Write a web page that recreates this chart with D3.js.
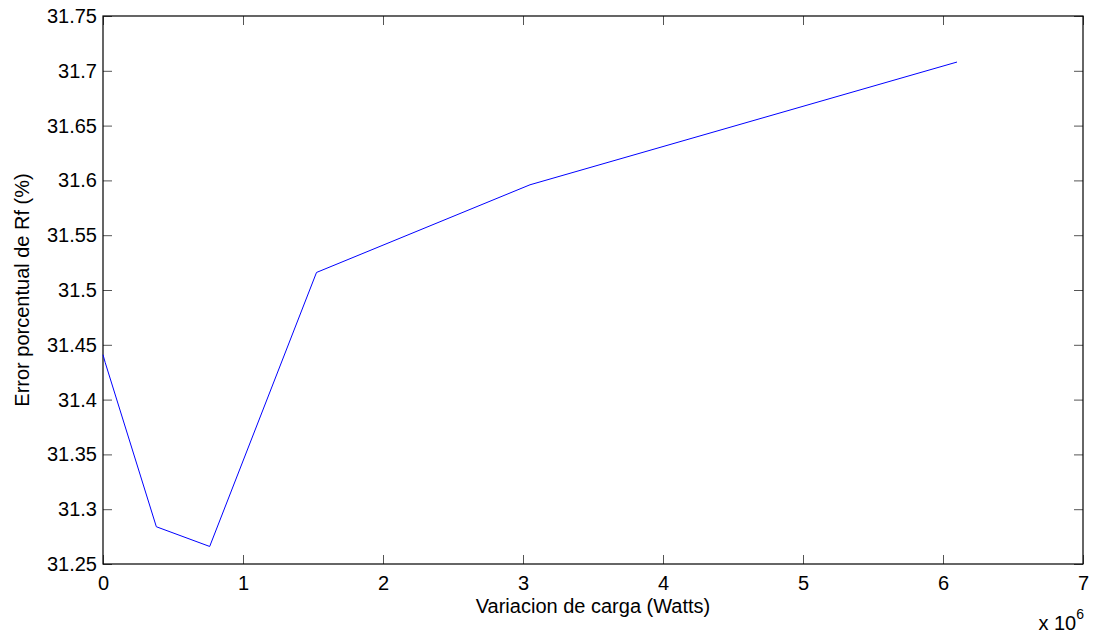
<!DOCTYPE html>
<html>
<head>
<meta charset="utf-8">
<script src="https://cdn.jsdelivr.net/npm/d3@7"></script>
<style>
  body { margin: 0; background: #fff; }
  svg { display: block; font-family: "Liberation Sans", Arial, sans-serif; }
</style>
</head>
<body>
<svg id="chart" width="1094" height="633"></svg>
<script>
// load variation in units of 1e6 W
const carga = [0, 0.0152, 0.381, 0.762, 1.525, 3.05, 6.1];
const errorRf = [31.441, 31.434, 31.284, 31.266, 31.516, 31.596, 31.708];
const xTicks = [0, 1, 2, 3, 4, 5, 6, 7];
const yTicks = [31.25, 31.3, 31.35, 31.4, 31.45, 31.5, 31.55, 31.6, 31.65, 31.7, 31.75];

const config = {
  left: 103,
  right: 1083,
  top: 16,
  bottom: 564,
  tick: 9,
  fontSize: 20
};

const svg = d3.select('#chart');

const x = d3.scaleLinear().domain([0, 7]).range([config.left, config.right]);
const y = d3.scaleLinear().domain([31.25, 31.75]).range([config.bottom, config.top]);

const fmtY = d => d3.format('.2f')(d).replace(/0$/, '');

// tick marks on all four sides (pointing inward, like matlab)
const drawAxis = (axis, transform) => {
  const g = svg.append('g').attr('transform', transform).call(axis);
  g.select('.domain').remove();
  g.selectAll('.tick line').attr('stroke', '#555').attr('stroke-width', 1);
  g.selectAll('text')
    .attr('fill', '#000')
    .style('font-size', config.fontSize + 'px')
    .style('font-family', '"Liberation Sans", Arial, sans-serif');
  return g;
};

drawAxis(
  d3.axisBottom(x).tickValues(xTicks).tickSize(-config.tick).tickPadding(12).tickFormat(d3.format('d')),
  `translate(0,${config.bottom})`
);
drawAxis(
  d3.axisTop(x).tickValues(xTicks).tickSize(-config.tick).tickFormat(''),
  `translate(0,${config.top})`
);
drawAxis(
  d3.axisLeft(y).tickValues(yTicks).tickSize(-config.tick).tickPadding(6).tickFormat(fmtY),
  `translate(${config.left},0)`
);
drawAxis(
  d3.axisRight(y).tickValues(yTicks).tickSize(-config.tick).tickFormat(''),
  `translate(${config.right},0)`
);

// box
svg.append('rect')
  .attr('x', config.left)
  .attr('y', config.top)
  .attr('width', config.right - config.left)
  .attr('height', config.bottom - config.top)
  .attr('fill', 'none')
  .attr('stroke', '#000')
  .attr('stroke-width', 1.2);

// the series
const line = d3.line()
  .x((d, i) => x(carga[i]))
  .y(d => y(d));

svg.append('path')
  .datum(errorRf)
  .attr('d', line)
  .attr('fill', 'none')
  .attr('stroke', '#0000ff')
  .attr('stroke-width', 1);

// labels
svg.append('text')
  .attr('x', (config.left + config.right) / 2)
  .attr('y', 613)
  .attr('text-anchor', 'middle')
  .style('font-size', config.fontSize + 'px')
  .text('Variacion de carga (Watts)');

svg.append('text')
  .attr('transform', `translate(29,${(config.top + config.bottom) / 2}) rotate(-90)`)
  .attr('text-anchor', 'middle')
  .style('font-size', config.fontSize + 'px')
  .text('Error porcentual de Rf (%)');

const exp = svg.append('text')
  .attr('x', 1084)
  .attr('y', 630)
  .attr('text-anchor', 'end')
  .style('font-size', config.fontSize + 'px');
exp.append('tspan').text('x 10');
exp.append('tspan').attr('dy', -11).style('font-size', '14px').text('6');
</script>
</body>
</html>
